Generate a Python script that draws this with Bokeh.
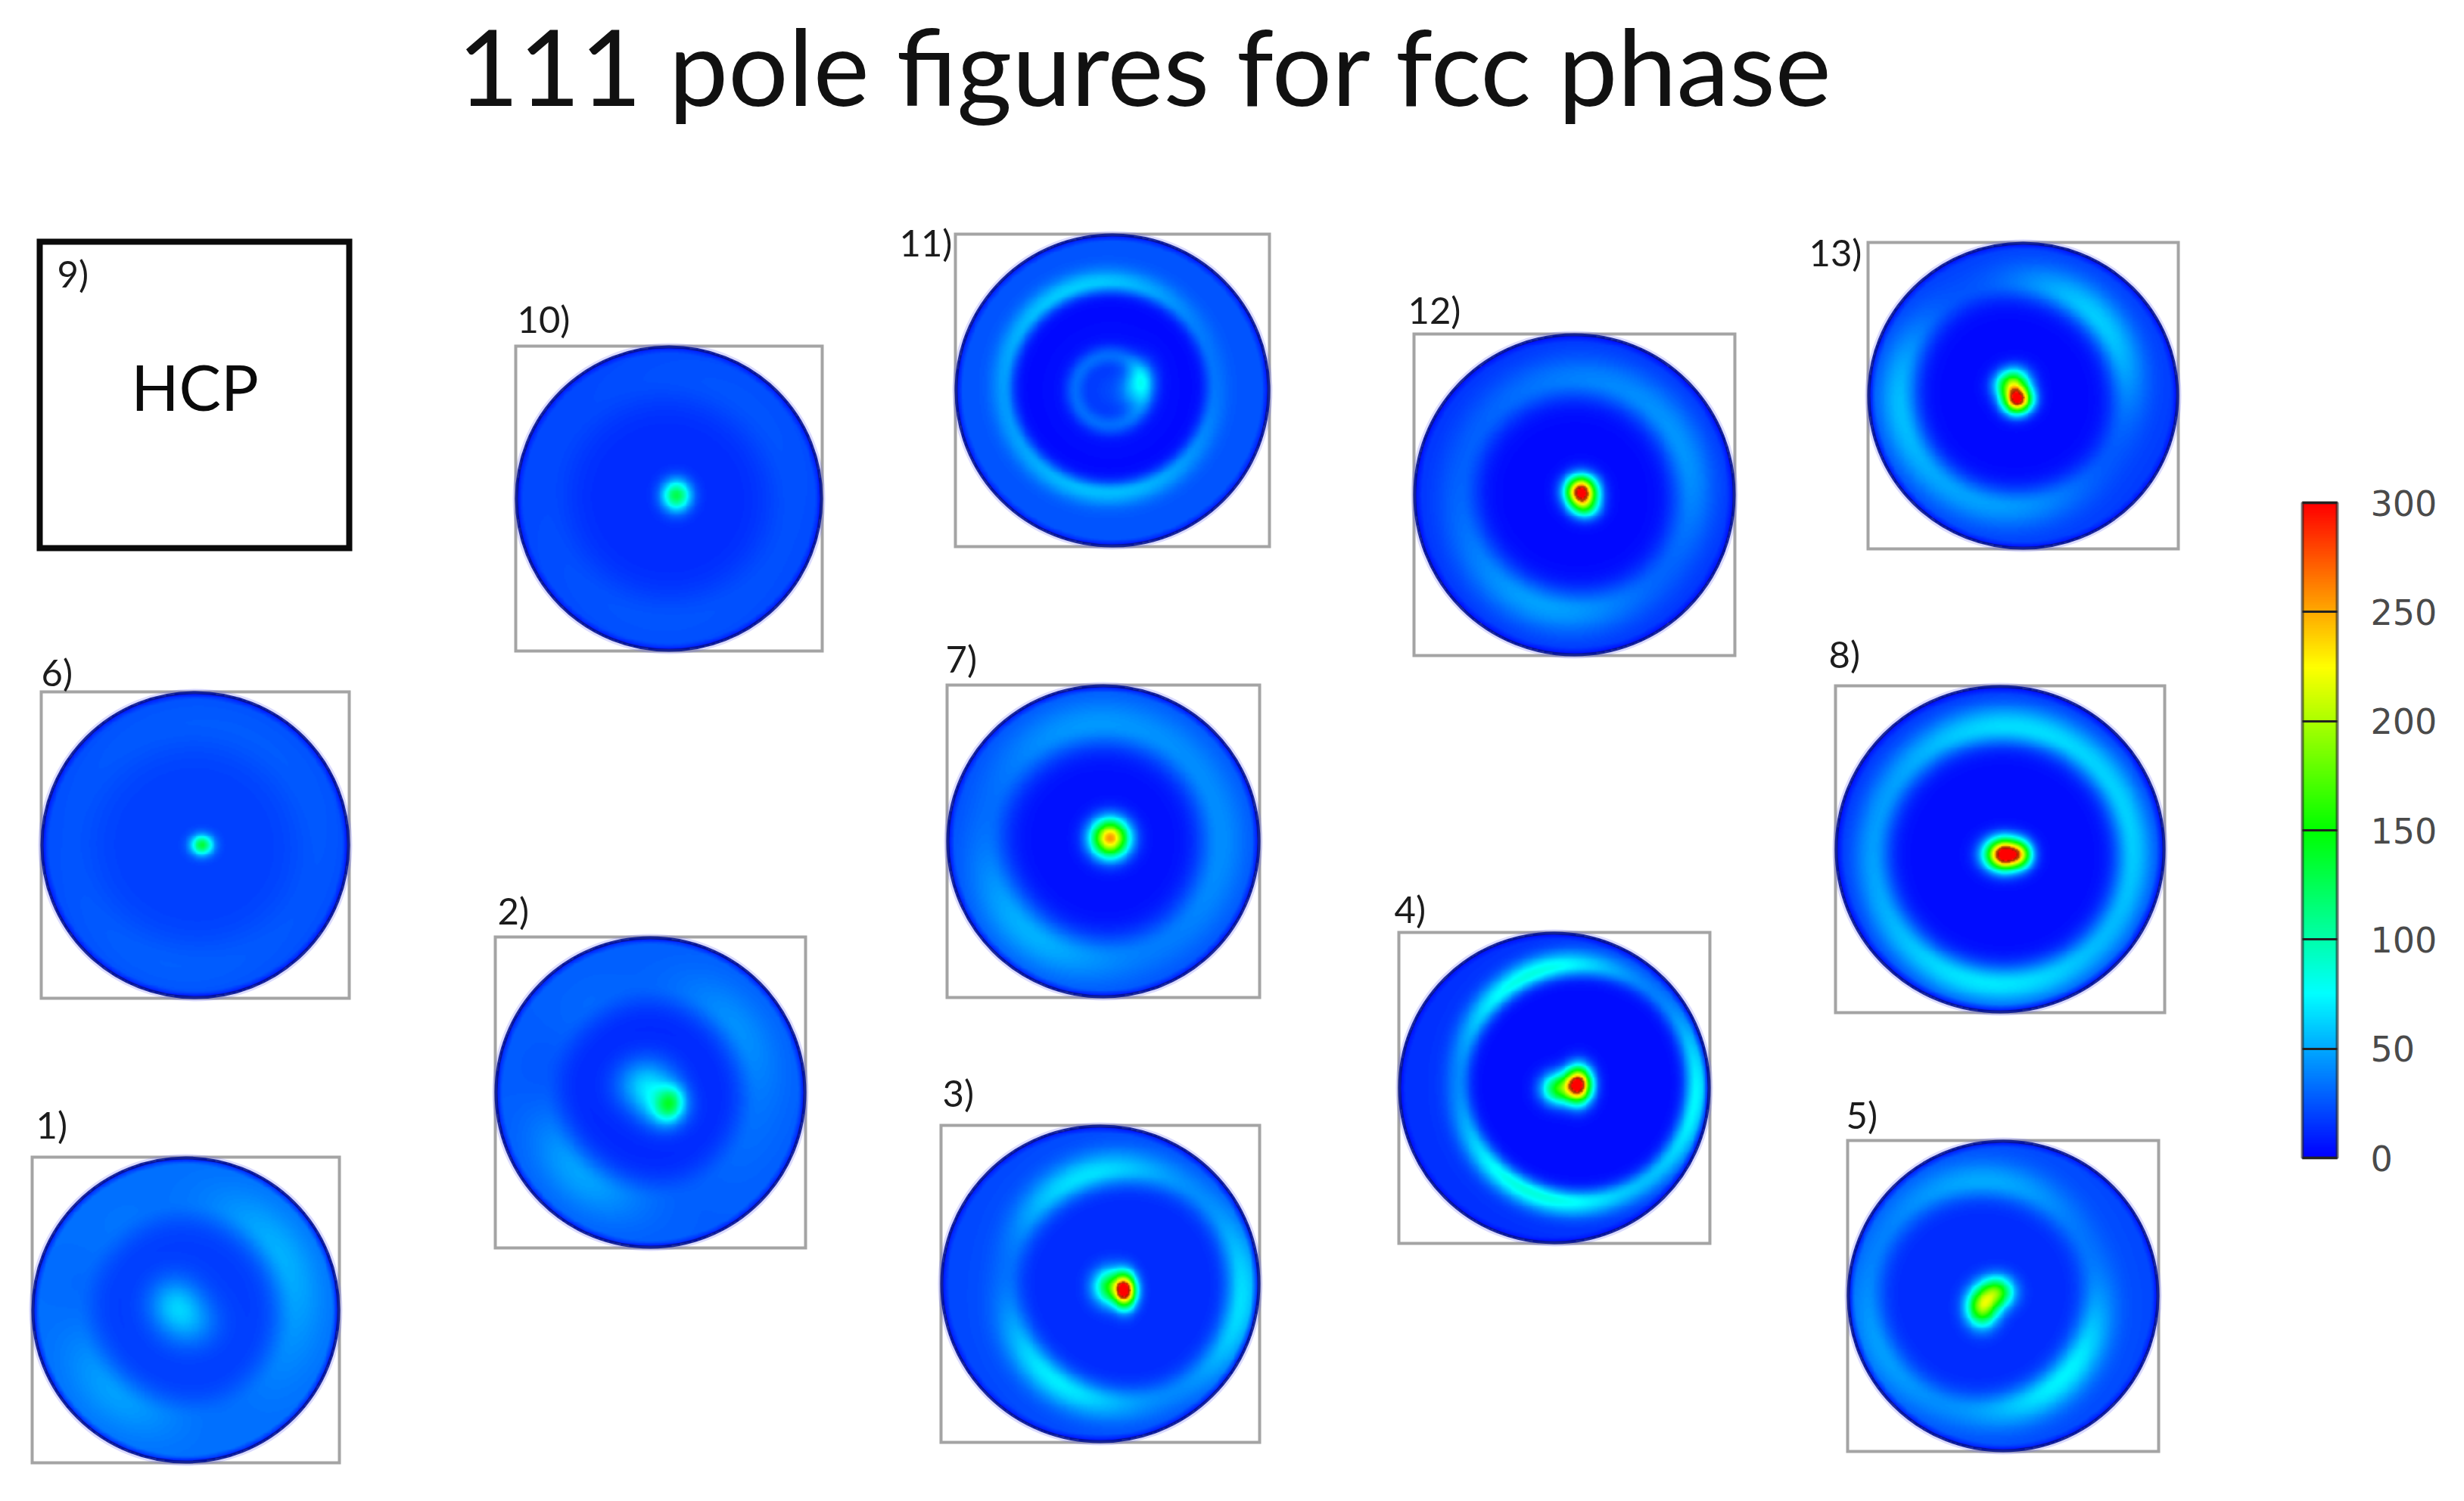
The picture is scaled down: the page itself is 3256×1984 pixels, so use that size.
import numpy as np
from bokeh.plotting import figure
from bokeh.models import ColumnDataSource, Range1d, LinearColorMapper, ColorBar, FixedTicker
from bokeh.core.properties import value
from bokeh.embed import file_html
from bokeh.resources import INLINE

TITLE = "111 pole figures for fcc phase"
panel_labels = ["1)", "2)", "3)", "4)", "5)", "6)", "7)", "8)", "10)", "11)", "12)", "13)"]
label_x = [47, 657, 1245, 1842, 2439, 54, 1249, 2416, 683, 1188, 1860, 2390]
label_base = [1505, 1222, 1463, 1220, 1492, 907, 889, 883, 440, 339, 428, 352]
box_left = [42, 654, 1243, 1848, 2441, 54, 1251, 2425, 681, 1262, 1868, 2468]
box_right = [448, 1064, 1664, 2259, 2852, 461, 1664, 2860, 1086, 1677, 2292, 2878]
box_top = [1529, 1238, 1487, 1232, 1507, 914, 905, 906, 457, 309, 441, 320]
box_bottom = [1933, 1649, 1906, 1643, 1918, 1319, 1318, 1338, 860, 722, 866, 725]

# ring centre offset (px), ring radius (fraction of disc radius), ring half-width
ring_dx = [0, 0, 32, 31, -28, 0, 0, 4, 0, -4, 2, -13]
ring_dy = [0, 0, 3, -6, 0, 0, 0, 8, 0, -4, 0, -2]
ring_rho = [0.72, 0.70, 0.74, 0.765, 0.74, 0.80, 0.75, 0.79, 0.80, 0.675, 0.72, 0.735]
ring_wid = [0.15, 0.15, 0.10, 0.075, 0.11, 0.20, 0.15, 0.11, 0.20, 0.07, 0.13, 0.12]
inner_level = [18, 12, 13, 4, 13, 19, 5, 4, 13, 3, 3, 3]
outer_level = [33, 28, 22, 15, 22, 20, 22, 14, 20, 25, 15, 18]

# ring intensity at E, NE, N, NW, W, SW, S, SE
ring_peaks = [
    [47, 50, 35, 34, 33, 47, 36, 36],
    [36, 42, 30, 30, 28, 48, 33, 30],
    [65, 42, 60, 55, 35, 68, 50, 48],
    [72, 38, 70, 72, 40, 75, 75, 58],
    [45, 38, 50, 40, 42, 45, 48, 72],
    [26, 27, 27, 26, 25, 27, 28, 26],
    [42, 42, 45, 38, 35, 52, 42, 38],
    [60, 62, 65, 50, 47, 58, 68, 55],
    [24, 25, 24, 22, 22, 24, 25, 24],
    [35, 40, 58, 56, 46, 50, 56, 45],
    [40, 43, 38, 30, 30, 42, 45, 30],
    [40, 60, 35, 30, 55, 50, 45, 28],
]
# spots: dx, dy, sigma_x, sigma_y, tilt_deg, peak
spots = [
    [(-15, -10, 24, 24, 0, 32), (5, 17, 27, 24, 0, 24)],
    [(26, 15, 12, 15, 15, 75), (-5, -10, 27, 24, 0, 48), (18, 20, 22, 20, 0, 42)],
    [(33, 9, 10, 15, 0, 270), (13, 4, 15, 16, 0, 125)],
    [(32, -4, 12, 16, 0, 300), (5, 1, 15, 14, 0, 140)],
    [(-28, 15, 14, 17, 0, 175), (-8, -5, 15, 14, 0, 145)],
    [(9, 0, 10, 9, 0, 115)],
    [(9, -4, 17, 17, 0, 250)],
    [(6, 7, 17, 14, 0, 330), (29, 7, 10, 12, 0, 100)],
    [(10, -4, 13, 14, 0, 115)],
    [(34, -8, 14, 20, 15, 50), (-2, 0, 34, 34, 0, 18)],
    [(9, -4, 14, 14, 0, 305), (15, 17, 13, 11, 0, 80)],
    [(-7, 6, 13, 12, -20, 280), (-15, -16, 15, 13, -20, 170)],
]
# small inner ring seen only in panel 11: panel index, dx, dy, radius, width, peak
inner_rings = {9: (-3, 0, 47, 13, 22)}

hcp_label = "9)"
hcp_text = "HCP"
hcp_box = (52, 461, 319, 724)
cbar_ticks = [0, 50, 100, 150, 200, 250, 300]
anchor_colors = [(0, 0, 255), (0, 255, 255), (0, 255, 0), (255, 255, 0), (255, 0, 0)]


def Y(py):
    return 1984 - py


def make_palette(contour=False):
    out = []
    anchors = np.array(anchor_colors, dtype=float)
    for t in np.linspace(0, 1, 256):
        pos = t * 4
        k = min(int(pos), 3)
        c = anchors[k] + (anchors[k + 1] - anchors[k]) * (pos - k)
        v = t * 300
        if contour and 258 < v < 292:
            c = c * 0.72
        out.append("#%02x%02x%02x" % tuple(int(round(a)) for a in c))
    return out


def field(i, n=220):
    rx = (box_right[i] - box_left[i]) / 2
    ry = (box_bottom[i] - box_top[i]) / 2
    xs = np.linspace(-1, 1, n)
    X, Yy = np.meshgrid(xs, xs)
    rho = np.hypot(X, Yy)
    px, py = X * rx, Yy * ry
    gx = X - ring_dx[i] / rx
    gy = Yy - ring_dy[i] / ry
    rr = np.hypot(gx, gy)
    th = np.arctan2(-gy, gx)
    coef = np.fft.rfft(np.array(ring_peaks[i], dtype=float)) / 8
    P = np.full_like(th, coef[0].real)
    for k in range(1, 5):
        scale = 1 if k == 4 else 2
        P = P + scale * np.real(coef[k] * np.exp(1j * k * th))
    d = rr - ring_rho[i]
    w = ring_wid[i]
    inner = inner_level[i] + (P - inner_level[i]) * np.exp(-(d / w) ** 2)
    outer = outer_level[i] + (P - outer_level[i]) * np.exp(-(d / (w * 1.25)) ** 2)
    v = np.where(d < 0, inner, outer)
    for (dx, dy, sx, sy, tilt, pk) in spots[i]:
        a = np.deg2rad(tilt)
        u = (px - dx) * np.cos(a) + (py - dy) * np.sin(a)
        t = -(px - dx) * np.sin(a) + (py - dy) * np.cos(a)
        v = v + pk * np.exp(-0.5 * ((u / sx) ** 2 + (t / sy) ** 2))
    if i in inner_rings:
        dx, dy, r0, wd, pk = inner_rings[i]
        v = v + pk * np.exp(-((np.hypot(px - dx, py - dy) - r0) / wd) ** 2)
    v = v * np.clip((1 - rho) / 0.045, 0, 1) ** 0.7
    v = v.astype(float)
    v[rho > 1] = np.nan
    return v[::-1]


p = figure(width=3240, height=1968, x_range=Range1d(0, 3240), y_range=Range1d(16, 1984),
           output_backend="svg", toolbar_location=None, min_border=0,
           background_fill_color="white", border_fill_color="white", outline_line_color=None)
p.axis.visible = False
p.grid.visible = False

# frames
p.quad(left=box_left, right=box_right, top=[Y(a) for a in box_top], bottom=[Y(a) for a in box_bottom],
       fill_color=None, line_color="#a4a4a4", line_width=4, line_join="miter")
p.quad(left=[hcp_box[0]], right=[hcp_box[1]], top=[Y(hcp_box[2])], bottom=[Y(hcp_box[3])],
       fill_color=None, line_color="#0a0a0a", line_width=8, line_join="miter")

# discs
disc_mapper = LinearColorMapper(palette=make_palette(True), low=0, high=300, nan_color="rgba(0,0,0,0)")
idx = range(len(panel_labels))
img_src = ColumnDataSource(dict(
    image=[field(i) for i in idx],
    x=box_left,
    y=[Y(b) for b in box_bottom],
    dw=[box_right[i] - box_left[i] for i in idx],
    dh=[box_bottom[i] - box_top[i] for i in idx],
))
p.image(image="image", x="x", y="y", dw="dw", dh="dh", color_mapper=disc_mapper, source=img_src)

cx = [(box_left[i] + box_right[i]) / 2 for i in idx]
cy = [Y((box_top[i] + box_bottom[i]) / 2) for i in idx]
ew = [box_right[i] - box_left[i] for i in idx]
eh = [box_bottom[i] - box_top[i] for i in idx]
p.ellipse(x=cx, y=cy, width=[a + 1 for a in ew], height=[a + 1 for a in eh], fill_color=None,
          line_color="#5a5aff", line_width=7, line_alpha=0.22)
p.ellipse(x=cx, y=cy, width=[a - 2 for a in ew], height=[a - 2 for a in eh], fill_color=None,
          line_color="#00108c", line_width=4, line_alpha=0.85)

# texts
p.text(x=label_x, y=[Y(a) for a in label_base], text=panel_labels, text_font=value("Lato"),
       text_font_size="49px", text_color="#1c1c1c", text_baseline="alphabetic", text_align="left",
       y_offset=-20)
p.text(x=[75], y=[Y(380)], text=[hcp_label], text_font=value("Lato"),
       text_font_size="49px", text_color="#1c1c1c", text_baseline="alphabetic", text_align="left",
       y_offset=-20)
p.text(x=[257], y=[Y(545)], text=[hcp_text], text_font=value("Lato"),
       text_font_size="83px", text_color="#0a0a0a", text_baseline="alphabetic", text_align="center",
       y_offset=-35)
p.text(x=[1513], y=[Y(141)], text=[TITLE], text_font=value("Lato"),
       text_font_size="140px", text_color="#111111", text_baseline="alphabetic", text_align="center",
       y_offset=-56)

# colour bar
cb_mapper = LinearColorMapper(palette=make_palette(False), low=0, high=300)
cb = ColorBar(color_mapper=cb_mapper, ticker=FixedTicker(ticks=cbar_ticks), location=(3042, 438),
              width=46, height=866, padding=0, margin=0, label_standoff=44,
              major_tick_in=46, major_tick_out=0, minor_tick_line_color=None,
              major_tick_line_color="#222222", major_tick_line_width=3,
              bar_line_color="#222222", bar_line_width=4, bar_line_alpha=0.6,
              major_label_text_font="DejaVu Sans", major_label_text_font_size="46px",
              major_label_text_color="#4a4a4a", background_fill_alpha=0, border_line_color=None)
p.add_layout(cb, "center")

open("out.html", "w").write(file_html(p, INLINE))
